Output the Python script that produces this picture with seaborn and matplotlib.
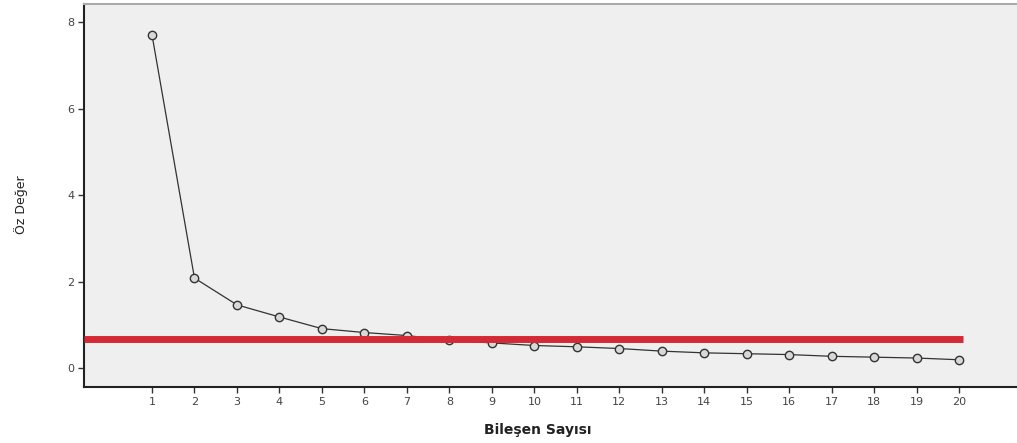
import matplotlib
matplotlib.use("Agg")
import matplotlib.pyplot as plt
import seaborn as sns
import pandas as pd

components = list(range(1, 21))
eigenvalues = [7.71, 2.08, 1.46, 1.18, 0.91, 0.82, 0.75, 0.64, 0.58, 0.52,
               0.49, 0.45, 0.39, 0.35, 0.33, 0.31, 0.27, 0.25, 0.23, 0.19]
threshold = 0.67
y_ticks = [0, 2, 4, 6, 8]
x_label = "Bileşen Sayısı"
y_label = "Öz Değer"

sns.set_theme(style="white")
plt.rcParams['font.family'] = ['DejaVu Sans']

fig = plt.figure(figsize=(10.17, 4.43), dpi=100)
ax = fig.add_axes([84/1017, 1 - 387/443, 1 - 84/1017 + 0.01, (387 - 4)/443])
ax.set_facecolor('#efefef')

df = pd.DataFrame({"comp": components, "eig": eigenvalues})
sns.lineplot(data=df, x="comp", y="eig", ax=ax, color='#333333', linewidth=0.9,
             marker='o', markersize=6, markerfacecolor='#d8d8d8',
             markeredgecolor='#333333', markeredgewidth=1.0, zorder=3)

ax.hlines(threshold, -0.6, 20.1, colors='#d42a35', linewidth=5, zorder=4)

ax.set_xlim(-0.6, 21.6)
ax.set_ylim(-0.44, 8.42)
ax.set_xticks(components)
ax.set_xticklabels([str(c) for c in components])
ax.set_yticks(y_ticks)
ax.tick_params(axis='both', which='both', direction='out', length=4, width=1,
               colors='#333333', labelsize=8, labelcolor='#444444')
ax.tick_params(axis='x', pad=3)
ax.tick_params(axis='y', pad=3)
ax.xaxis.set_ticks_position('bottom')
ax.yaxis.set_ticks_position('left')

for side in ['left', 'bottom']:
    ax.spines[side].set_color('#222222')
    ax.spines[side].set_linewidth(1.5)
ax.spines['top'].set_color('#aaaaaa')
ax.spines['top'].set_linewidth(1.5)
ax.spines['right'].set_visible(False)

ax.set_xlabel(x_label, fontsize=10, fontweight='bold', color='#222222')
ax.set_ylabel(y_label, fontsize=9, color='#222222')
ax.xaxis.set_label_coords((538 - 84) / 943, -(430 - 387) / 383, transform=ax.transAxes)
ax.yaxis.set_label_coords(-(84 - 21) / 943, (387 - 205) / 383, transform=ax.transAxes)
ax.xaxis.label.set_va('center')
ax.yaxis.label.set_va('center')

fig.savefig("out.png", dpi=100, facecolor='white')
